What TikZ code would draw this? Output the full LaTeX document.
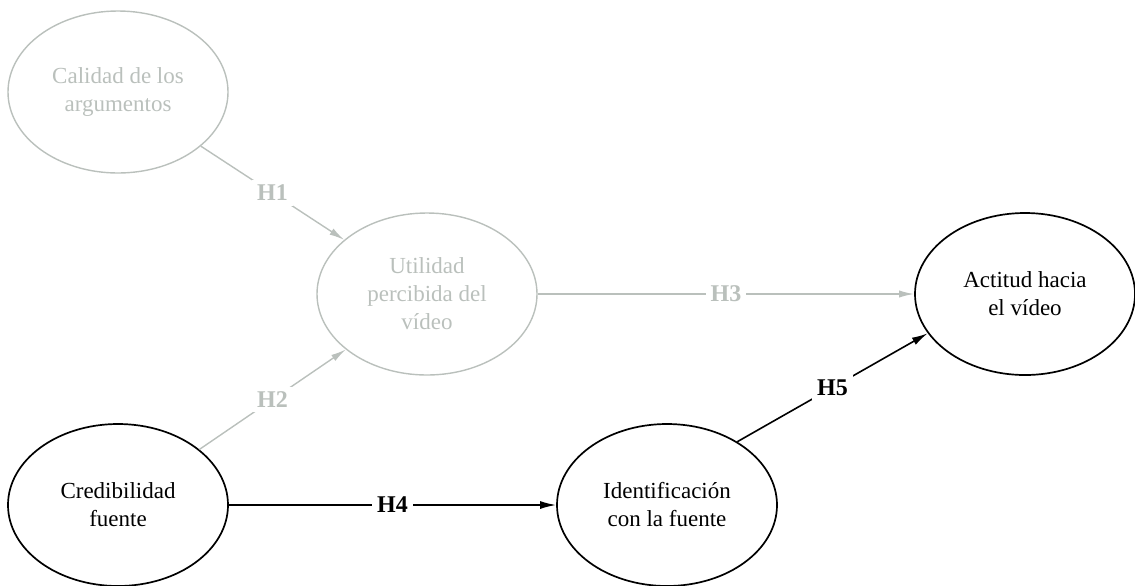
\documentclass[tikz,border=0pt]{standalone}
\usepackage{fontspec}
\setmainfont{Liberation Serif}
\usetikzlibrary{shapes.geometric,arrows.meta}
\definecolor{pale}{RGB}{186,192,188}
\begin{document}
\begin{tikzpicture}[x=0.5pt,y=-0.5pt,
  concept/.style={ellipse, draw, line width=0.85pt, minimum width=110pt, minimum height=81pt,
    inner sep=0pt, align=center, font=\fontsize{11.5}{14}\selectfont},
  faded/.style={draw=pale, text=pale, line width=0.7pt},
  link/.style={-{Latex[length=8pt,width=4pt]}, line width=0.8pt},
  fadedlink/.style={-{Latex[length=7.5pt,width=3.6pt]}, draw=pale, line width=0.7pt},
  hyp/.style={fill=white, inner sep=2.5pt, font=\fontsize{12}{13}\selectfont\bfseries},
  fadedhyp/.style={hyp, text=pale}]
\useasboundingbox (0,0) rectangle (1135,585);
\node[concept, faded] (cal) at (118,92) {Calidad de los\\argumentos};
\node[concept, faded] (uti) at (427,294) {Utilidad\\percibida del\\vídeo};
\node[concept] (cre) at (118,505) {Credibilidad\\fuente};
\node[concept] (ide) at (667,505) {Identificación\\con la fuente};
\node[concept] (act) at (1025,294) {Actitud hacia\\el vídeo};
\draw[fadedlink] (cal) -- node[fadedhyp] {H1} (uti);
\draw[fadedlink] (cre) -- node[fadedhyp] {H2} (uti);
\draw[fadedlink] (uti.east) -- node[fadedhyp] {H3} (act.west);
\draw[link] (cre.east) -- node[hyp] {H4} (ide.west);
\draw[link] (ide.42) -- node[hyp] {H5} (act.202);
\end{tikzpicture}
\end{document}
